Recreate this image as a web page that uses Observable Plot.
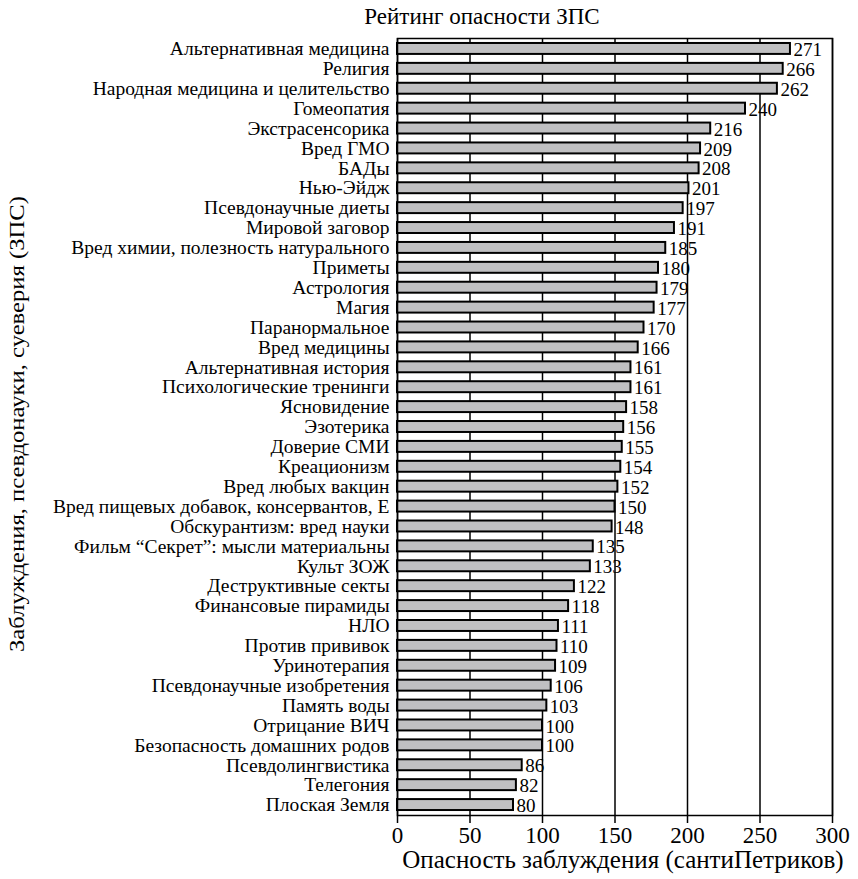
<!DOCTYPE html>
<html><head><meta charset="utf-8">
<script src="https://cdn.jsdelivr.net/npm/d3@7"></script>
<script src="https://cdn.jsdelivr.net/npm/@observablehq/plot@0.6"></script>
<style>body{margin:0;background:#fff}</style>
</head><body><div id="chart"></div>
<script>
const categories = [
  "Альтернативная медицина","Религия","Народная медицина и целительство","Гомеопатия",
  "Экстрасенсорика","Вред ГМО","БАДы","Нью-Эйдж","Псевдонаучные диеты","Мировой заговор",
  "Вред химии, полезность натурального","Приметы","Астрология","Магия","Паранормальное",
  "Вред медицины","Альтернативная история","Психологические тренинги","Ясновидение","Эзотерика",
  "Доверие СМИ","Креационизм","Вред любых вакцин","Вред пищевых добавок, консервантов, Е",
  "Обскурантизм: вред науки","Фильм “Секрет”: мысли материальны","Культ ЗОЖ","Деструктивные секты",
  "Финансовые пирамиды","НЛО","Против прививок","Уринотерапия","Псевдонаучные изобретения",
  "Память воды","Отрицание ВИЧ","Безопасность домашних родов","Псевдолингвистика","Телегония","Плоская Земля"
];
const values = [271,266,262,240,216,209,208,201,197,191,185,180,179,177,170,166,161,161,158,156,155,154,152,150,148,135,133,122,118,111,110,109,106,103,100,100,86,82,80];
const xTicks = [0,50,100,150,200,250,300];
const titleText = "Рейтинг опасности ЗПС";
const xLabel = "Опасность заблуждения (сантиПетриков)";
const yLabel = "Заблуждения, псевдонауки, суеверия (ЗПС)";

const data = categories.map((c, i) => ({name: c, value: values[i]}));
const font = "Liberation Serif, Tinos, Times New Roman, Liberation Sans, Arial, sans-serif";

const chart = Plot.plot({
  width: 858, height: 879,
  marginLeft: 397, marginRight: 26, marginTop: 38, marginBottom: 64,
  style: {fontFamily: font, background: "#fff", color: "#000", overflow: "visible"},
  x: {domain: [0, 300]},
  y: {domain: categories, paddingInner: 0.45, paddingOuter: 0.25},
  marks: [
    Plot.gridX(xTicks, {stroke: "#000", strokeOpacity: 1, strokeWidth: 1.5}),
    Plot.barX(data, {x: "value", y: "name", fill: "#c0c0c2", stroke: "#000", strokeWidth: 2}),
    Plot.text(data, {x: "value", y: "name", text: d => String(d.value), textAnchor: "start", dx: 3, dy: 1, fontSize: 19, fill: "#000"}),
    Plot.frame({stroke: "#000", strokeWidth: 1.5}),
    Plot.axisX({ticks: xTicks, tickSize: 8, tickPadding: 3, fontSize: 23, label: null, stroke: "#000", strokeWidth: 1.5}),
    Plot.axisY({tickSize: 0, tickPadding: 8, fontSize: 19.5, label: null})
  ]
});
document.getElementById("chart").appendChild(chart);
const svg = d3.select(chart);
svg.append("text").attr("x", 482).attr("y", 24).attr("text-anchor", "middle")
  .style("font-family", font).attr("font-size", 23).attr("fill", "#000").text(titleText);
svg.append("text").attr("x", 623).attr("y", 868).attr("text-anchor", "middle")
  .style("font-family", font).attr("font-size", 25).attr("fill", "#000").text(xLabel);
svg.append("text").attr("transform", "translate(24,424) rotate(-90)").attr("text-anchor", "middle")
  .style("font-family", font).attr("font-size", 20).attr("fill", "#000")
  .attr("textLength", 456).attr("lengthAdjust", "spacingAndGlyphs").text(yLabel);
</script>
</body></html>
